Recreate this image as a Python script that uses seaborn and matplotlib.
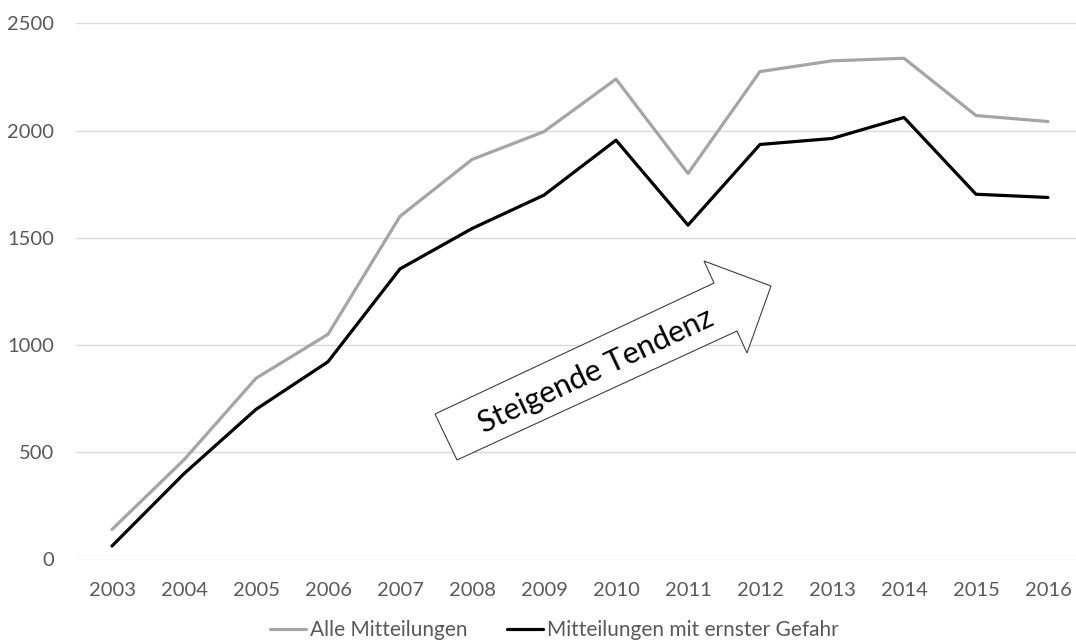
import matplotlib
matplotlib.use("Agg")
import matplotlib.pyplot as plt
from matplotlib.patches import Polygon
from matplotlib.lines import Line2D
import pandas as pd
import seaborn as sns

# Jahreswerte der beiden Reihen
years = [2003, 2004, 2005, 2006, 2007, 2008, 2009, 2010,
         2011, 2012, 2013, 2014, 2015, 2016]
alle = [140, 465, 845, 1050, 1600, 1865, 1995, 2240,
        1800, 2275, 2325, 2337, 2070, 2042]
ernst = [63, 400, 700, 922, 1355, 1543, 1699, 1955,
         1559, 1935, 1963, 2061, 1703, 1688]
series_names = ["Alle Mitteilungen", "Mitteilungen mit ernster Gefahr"]
y_ticks = [0, 500, 1000, 1500, 2000, 2500]
arrow_text = "Steigende Tendenz"

df = pd.DataFrame({
    "Jahr": years * 2,
    "Anzahl": alle + ernst,
    "Reihe": [series_names[0]] * len(years) + [series_names[1]] * len(years),
})

sns.set_theme(style="white")
plt.rcParams["font.family"] = ["Lato", "DejaVu Sans"]

W, H = 1076, 642
fig = plt.figure(figsize=(W / 100, H / 100), dpi=100)
ax = fig.add_axes([76 / W, 1 - 559.5 / H, (1084 - 76) / W, (559.5 - 23.3) / H])

colors = {series_names[0]: "#A5A5A5", series_names[1]: "#000000"}
sns.lineplot(data=df, x="Jahr", y="Anzahl", hue="Reihe", palette=colors,
             linewidth=2.3, ax=ax, legend=False)

ax.set_xlim(years[0] - 0.5, years[-1] + 0.5)
ax.set_ylim(0, 2500)
ax.set_xticks(years)
ax.set_xticklabels([str(y) for y in years])
ax.set_yticks(y_ticks)
ax.set_xlabel("")
ax.set_ylabel("")
ax.grid(axis="y", color="#D9D9D9", linewidth=1.0)
ax.set_axisbelow(True)
for s in ax.spines.values():
    s.set_visible(False)
ax.tick_params(axis="both", length=0, labelsize=14.5, colors="#595959")
ax.tick_params(axis="x", pad=16)
ax.tick_params(axis="y", pad=16)

# Blockpfeil mit Beschriftung
pts_px = [(457, 460), (435, 414), (714, 283), (704, 261), (771, 286),
          (747, 353), (737, 331)]
pts = [(x / W, 1 - y / H) for x, y in pts_px]
fig.add_artist(Polygon(pts, closed=True, facecolor="white",
                       edgecolor="#404040", linewidth=0.8,
                       transform=fig.transFigure, zorder=5))
fig.text(596 / W, 1 - 371 / H, arrow_text, rotation=25.2,
         rotation_mode="anchor", ha="center", va="center",
         fontsize=22, color="black", zorder=6)

handles = [Line2D([], [], color=colors[n], linewidth=2.3) for n in series_names]
ax.legend(handles, series_names, loc="center",
          bbox_to_anchor=(554.5 / W, 1 - 630 / H), bbox_transform=fig.transFigure,
          ncol=2, frameon=False, fontsize=15, labelcolor="#595959",
          handlelength=1.73, handletextpad=0.19, columnspacing=1.92,
          borderpad=0, borderaxespad=0)

fig.savefig("out.png", dpi=100)
